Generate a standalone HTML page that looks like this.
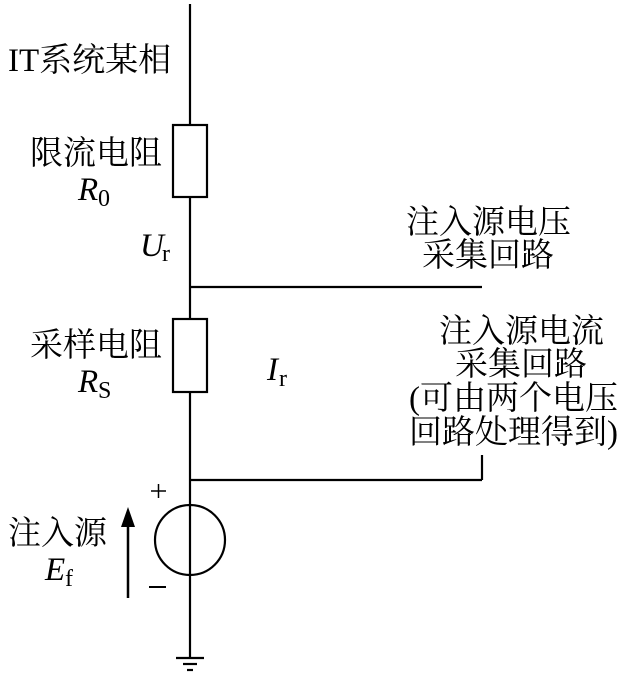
<!DOCTYPE html>
<html><head><meta charset="utf-8"><style>
html,body{margin:0;padding:0;background:#fff;}
svg{display:block;}
text{font-family:"Liberation Serif","Noto Serif CJK SC","Noto Serif CJK JP",serif;fill:#000;}
.c{font-size:33px;}
.i{font-size:33px;font-style:italic;}
.s{font-size:24px;}
</style></head><body>
<svg width="640" height="678" viewBox="0 0 640 678" xmlns="http://www.w3.org/2000/svg">
<g stroke="#000" stroke-width="2.2" fill="none">
<line x1="190" y1="4" x2="190" y2="125"/>
<rect x="173" y="125" width="34" height="72" fill="#fff"/>
<line x1="190" y1="197" x2="190" y2="319"/>
<rect x="173" y="319" width="34" height="73" fill="#fff"/>
<line x1="190" y1="392" x2="190" y2="658"/>
<line x1="190" y1="287" x2="482" y2="287"/>
<line x1="190" y1="480" x2="482" y2="480"/>
<line x1="482" y1="455" x2="482" y2="480"/>
<circle cx="190" cy="540" r="35"/>
<line x1="176" y1="658" x2="204" y2="658"/>
<line x1="183" y1="664" x2="197" y2="664"/>
<line x1="187" y1="670" x2="193" y2="670"/>
<line x1="128" y1="598" x2="128" y2="522" stroke-width="2.5"/>
<line x1="151" y1="491" x2="166" y2="491" stroke-width="1.5"/>
<line x1="158.5" y1="484" x2="158.5" y2="498" stroke-width="1.5"/>
<line x1="149" y1="587" x2="166" y2="587" stroke-width="2"/>
</g>
<polygon points="128,507 121,527 135,527" fill="#000"/>
<text class="c" x="8" y="71">IT系统某相</text>
<text class="c" x="30" y="164">限流电阻</text>
<text class="i" x="78" y="200">R</text><text class="s" x="98" y="206">0</text>
<text class="i" x="140" y="256">U</text><text class="s" x="162" y="261">r</text>
<text class="c" x="30" y="356">采样电阻</text>
<text class="i" x="78" y="392">R</text><text class="s" x="98" y="398">S</text>
<text class="i" x="267" y="380">I</text><text class="s" x="279" y="386">r</text>
<text class="c" x="8" y="544">注入源</text>
<text class="i" x="45" y="580">E</text><text class="s" x="65" y="586">f</text>
<text class="c" x="406" y="233">注入源电压</text>
<text class="c" x="422" y="266">采集回路</text>
<text class="c" x="439" y="342">注入源电流</text>
<text class="c" x="455" y="375">采集回路</text>
<text class="c" x="409" y="409">(可由两个电压</text>
<text class="c" x="409" y="443">回路处理得到)</text>
</svg>
</body></html>
